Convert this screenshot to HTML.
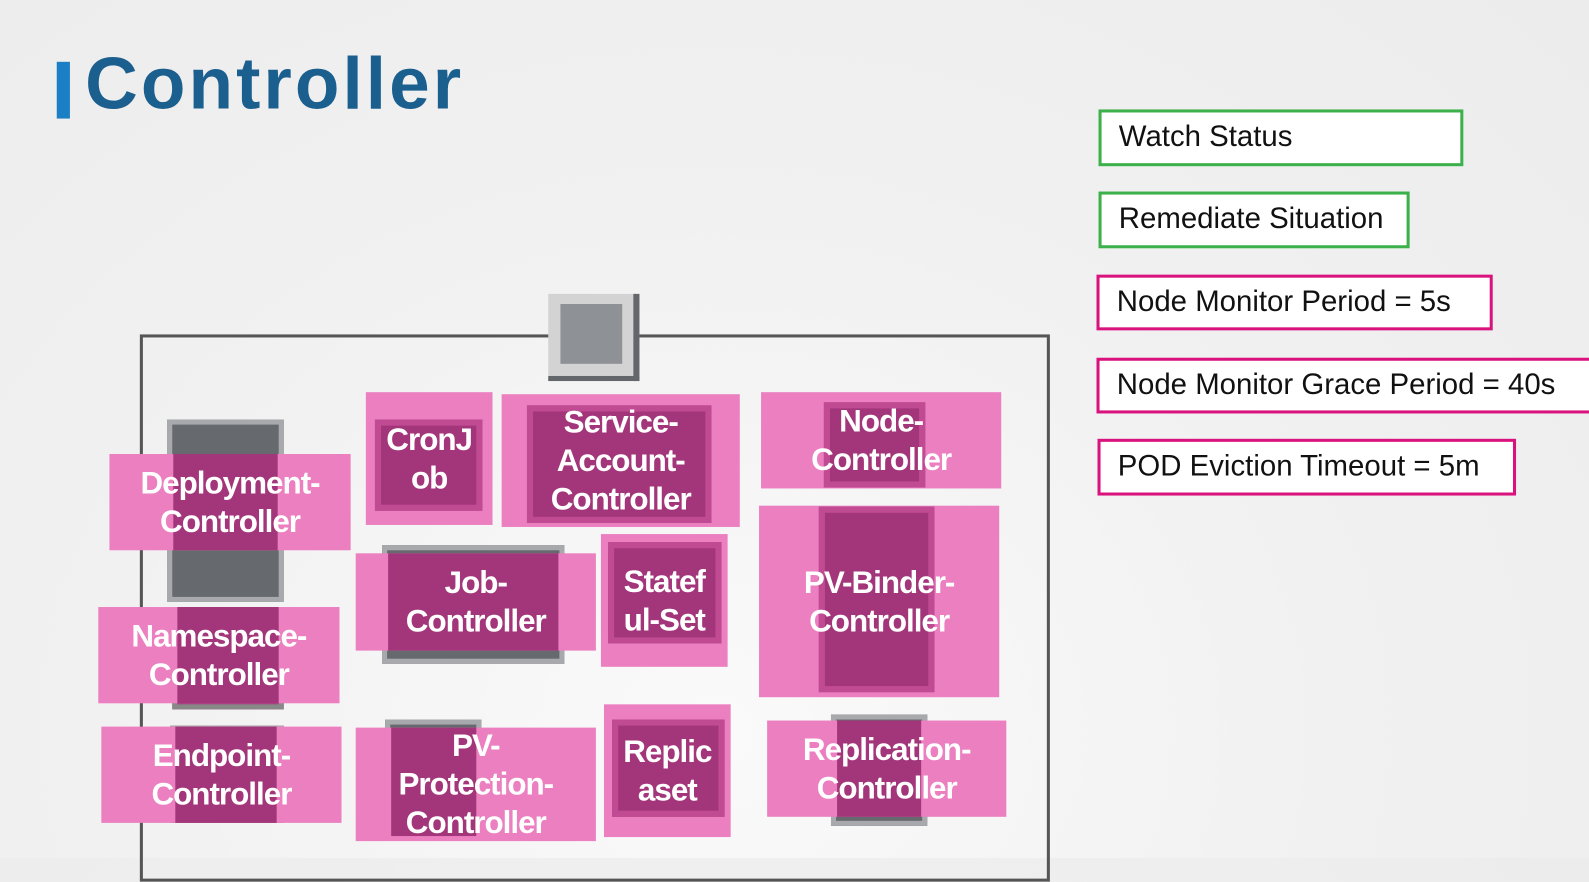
<!DOCTYPE html>
<html><head><meta charset="utf-8"><style>
body{margin:0;width:1589px;height:858px;overflow:hidden;background:radial-gradient(ellipse at 45% 85%,#fafafa 0%,#f1f1f1 50%,#ececec 100%);font-family:"Liberation Sans",sans-serif;position:relative}
#w{position:absolute;left:0;top:0;width:1568px;height:847px;transform:scale(1.0134);transform-origin:0 0}
#w div{position:absolute;box-sizing:border-box}
.ps{background:#eb7fc0}
.dk{background:#a3367a;border:6px solid #c04b92}
.dd{background:#a3367a}
.gr{background:#66696e;border:5px solid #a7a9ac}
.t{color:#fff;font-weight:bold;font-size:31px;line-height:38px;text-align:center;letter-spacing:-1px;display:flex;align-items:center;justify-content:center;white-space:nowrap}
.b{background:#fff;border:3px solid #3cb04a;font-size:29px;color:#111;padding-left:17px;line-height:49px;white-space:nowrap}
.m{border-color:#d9127e}
</style></head><body><div id="w">
<div style="left:56px;top:61px;width:13px;height:56px;background:#1a7fc4"></div>
<div style="left:84px;top:42px;font-size:72px;color:#1b5f8f;letter-spacing:3px;font-weight:600">Controller</div>

<div class="b" style="left:1084px;top:108px;width:360px;height:56px">Watch Status</div>
<div class="b" style="left:1084px;top:189px;width:307px;height:56px">Remediate Situation</div>
<div class="b m" style="left:1082px;top:271px;width:391px;height:55px">Node Monitor Period = 5s</div>
<div class="b m" style="left:1082px;top:353px;width:520px;height:55px">Node Monitor Grace Period = 40s</div>
<div class="b m" style="left:1083px;top:433px;width:413px;height:56px">POD Eviction Timeout = 5m</div>

<div style="left:138px;top:330px;width:898px;height:540px;border:3px solid #555;"></div>
<div style="left:541px;top:290px;width:90px;height:86px;background:#d3d3d3;border-right:6px solid #63666b;border-bottom:5px solid #63666b"></div>
<div style="left:553px;top:300px;width:61px;height:59px;background:#8e9195"></div>

<!-- devices -->
<div class="gr" style="left:165px;top:414px;width:115px;height:180px"></div>
<div class="gr" style="left:377px;top:538px;width:180px;height:117px"></div>
<div class="gr" style="left:820px;top:705px;width:95px;height:110px"></div>
<div class="gr" style="left:380px;top:710px;width:95px;height:115px"></div>
<div class="gr" style="left:170px;top:604px;width:110px;height:96px;background:#a3367a;border-color:#888"></div>
<div class="gr" style="left:168px;top:716px;width:112px;height:96px;background:#a3367a;border-color:#aaa"></div>

<!-- pink panels -->
<div class="ps" style="left:108px;top:448px;width:238px;height:95px"></div>
<div class="ps" style="left:361px;top:387px;width:125px;height:131px"></div>
<div class="ps" style="left:495px;top:389px;width:235px;height:131px"></div>
<div class="ps" style="left:751px;top:387px;width:237px;height:95px"></div>
<div class="ps" style="left:351px;top:546px;width:237px;height:96px"></div>
<div class="ps" style="left:593px;top:527px;width:125px;height:131px"></div>
<div class="ps" style="left:749px;top:499px;width:237px;height:189px"></div>
<div class="ps" style="left:97px;top:599px;width:238px;height:95px"></div>
<div class="ps" style="left:100px;top:717px;width:237px;height:95px"></div>
<div class="ps" style="left:351px;top:718px;width:237px;height:112px"></div>
<div class="ps" style="left:596px;top:695px;width:125px;height:131px"></div>
<div class="ps" style="left:757px;top:711px;width:236px;height:95px"></div>

<!-- dark inner parts -->
<div class="dd" style="left:171px;top:448px;width:103px;height:95px"></div>
<div class="dd" style="left:383px;top:546px;width:168px;height:96px"></div>
<div class="dd" style="left:175px;top:599px;width:100px;height:95px"></div>
<div class="dd" style="left:173px;top:717px;width:100px;height:95px"></div>
<div class="dd" style="left:386px;top:718px;width:84px;height:107px"></div>
<div class="dd" style="left:826px;top:711px;width:83px;height:95px"></div>
<div class="dk" style="left:813px;top:397px;width:100px;height:84px"></div>
<div class="dk" style="left:370px;top:414px;width:106px;height:90px"></div>
<div class="dk" style="left:520px;top:400px;width:182px;height:116px"></div>
<div class="dk" style="left:600px;top:535px;width:112px;height:100px"></div>
<div class="dk" style="left:808px;top:500px;width:114px;height:183px"></div>
<div class="dk" style="left:604px;top:710px;width:111px;height:96px"></div>

<div class="t" style="left:108px;top:448px;width:238px;height:95px">Deployment-<br>Controller</div>
<div class="t" style="left:361px;top:387px;width:125px;height:131px">CronJ<br>ob</div>
<div class="t" style="left:495px;top:389px;width:235px;height:131px">Service-<br>Account-<br>Controller</div>
<div class="t" style="left:751px;top:387px;width:237px;height:95px">Node-<br>Controller</div>
<div class="t" style="left:351px;top:546px;width:237px;height:96px">Job-<br>Controller</div>
<div class="t" style="left:593px;top:527px;width:125px;height:131px;align-items:flex-start;padding-top:28px">Statef<br>ul-Set</div>
<div class="t" style="left:749px;top:499px;width:237px;height:189px">PV-Binder-<br>Controller</div>
<div class="t" style="left:97px;top:599px;width:238px;height:95px">Namespace-<br>Controller</div>
<div class="t" style="left:100px;top:717px;width:237px;height:95px">Endpoint-<br>Controller</div>
<div class="t" style="left:351px;top:718px;width:237px;height:112px">PV-<br>Protection-<br>Controller</div>
<div class="t" style="left:596px;top:695px;width:125px;height:131px">Replic<br>aset</div>
<div class="t" style="left:757px;top:711px;width:236px;height:95px">Replication-<br>Controller</div>
</div></body></html>
